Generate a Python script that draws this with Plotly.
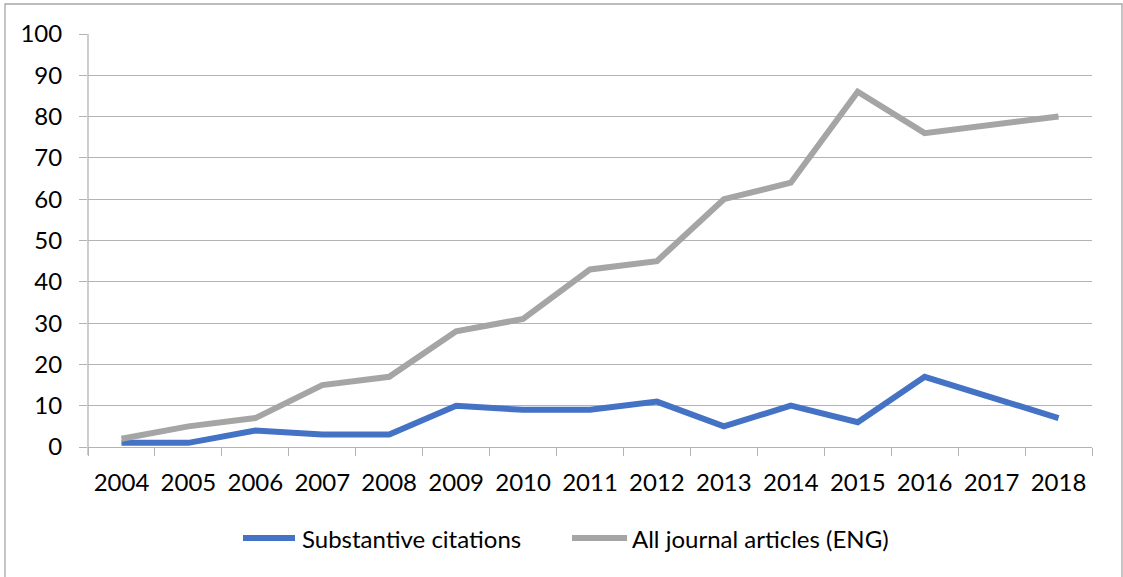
import plotly.graph_objects as go

years = ["2004", "2005", "2006", "2007", "2008", "2009", "2010", "2011",
         "2012", "2013", "2014", "2015", "2016", "2017", "2018"]
substantive = [1, 1, 4, 3, 3, 10, 9, 9, 11, 5, 10, 6, 17, 12, 7]
all_articles = [2, 5, 7, 15, 17, 28, 31, 43, 45, 60, 64, 86, 76, 78, 80]

series_names = ["Substantive citations", "All journal articles (ENG)"]
series_colors = ["#4472C4", "#A5A5A5"]

W, H = 1123, 577
L, R, T, B = 88, 1092, 34, 447  # plot area in pixels

FONT = dict(family="Lato, 'Open Sans', sans-serif", size=24, color="#000000")
GRID = "#B3B3B3"
LINE_W = 6

fig = go.Figure()
for name, vals, col in zip(series_names, [substantive, all_articles], series_colors):
    fig.add_trace(go.Scatter(
        x=years, y=vals, mode="lines", name=name,
        line=dict(color=col, width=LINE_W), cliponaxis=False,
        showlegend=False,
    ))

def px_x(p):
    return (p - L) / (R - L)

def px_y(p):
    return (B - p) / (B - T)

shapes = [
    # outer chart border
    dict(type="rect", xref="paper", yref="paper",
         x0=px_x(5), x1=px_x(1122), y0=px_y(580), y1=px_y(4),
         line=dict(color="#A6A6A6", width=1.3), layer="below"),
    # value axis line extending down through the tick marks
    dict(type="line", xref="paper", yref="paper",
         x0=0, x1=0, y0=px_y(455), y1=1,
         line=dict(color=GRID, width=1.3)),
]

# legend drawn below the plot: a line swatch followed by its label
annotations = []
legend_y = px_y(538)
legend_items = [(243, 295, 300), (572, 627, 630)]
for (lx0, lx1, tx), name, col in zip(legend_items, series_names, series_colors):
    shapes.append(dict(type="line", xref="paper", yref="paper",
                       x0=px_x(lx0), x1=px_x(lx1), y0=legend_y, y1=legend_y,
                       line=dict(color=col, width=LINE_W)))
    annotations.append(dict(xref="paper", yref="paper", x=px_x(tx), y=legend_y,
                            xanchor="left", yanchor="middle", text=name,
                            showarrow=False, font=FONT))

fig.update_layout(
    width=W, height=H,
    margin=dict(l=L, r=W - R, t=T, b=H - B),
    paper_bgcolor="white", plot_bgcolor="white",
    font=FONT,
    showlegend=False,
    shapes=shapes,
    annotations=annotations,
    xaxis=dict(
        type="category", range=[-0.5, 14.5],
        tickson="boundaries", ticks="outside", ticklen=8,
        tickcolor=GRID, tickwidth=1.3,
        showline=True, linecolor=GRID, linewidth=1.3,
        showgrid=False, tickfont=FONT, ticklabelstandoff=14,
        fixedrange=True,
    ),
    yaxis=dict(
        range=[0, 100], dtick=10, tick0=0,
        ticks="outside", ticklen=8, tickcolor=GRID, tickwidth=1.3,
        showgrid=True, gridcolor=GRID, gridwidth=1.3,
        zeroline=False, showline=False,
        tickfont=FONT, ticklabelstandoff=12,
        fixedrange=True,
    ),
)

fig.write_html("out.html")
